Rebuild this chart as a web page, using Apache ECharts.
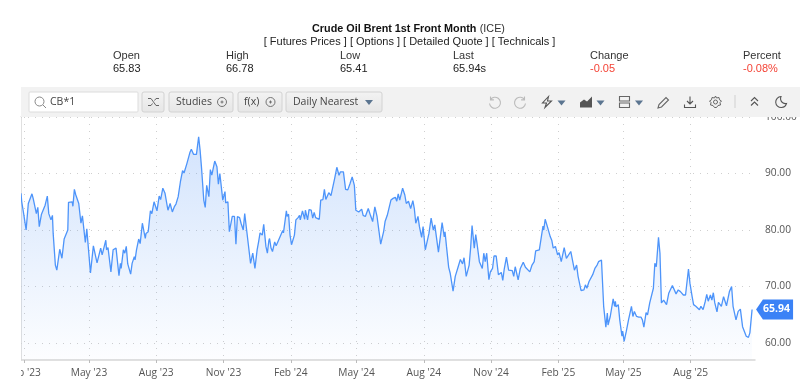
<!DOCTYPE html>
<html><head><meta charset="utf-8">
<style>html,body{margin:0;padding:0;background:#fff}#c{width:800px;height:381px}</style>
<script src="https://cdn.jsdelivr.net/npm/echarts@6/dist/echarts.min.js"></script>
</head><body><div id="c"></div>
<script>
const startDate = Date.UTC(2023, 0, 28);
const endDay = 1004;
const tickDates = ['2023-02-01','2023-05-01','2023-08-01','2023-11-01','2024-02-01','2024-05-01','2024-08-01','2024-11-01','2025-02-01','2025-05-01','2025-08-01'];
const tickLabels = ["Feb '23","May '23","Aug '23","Nov '23","Feb '24","May '24","Aug '24","Nov '24","Feb '25","May '25","Aug '25"];
const priceTicks = [60,70,80,90,100];
const days = [0,1,2,4,7,10,12,15,17,19,21,23,25,28,30,33,36,38,41,43,44,47,49,53,56,59,61,64,65,70,71,73,75,77,79,82,84,88,90,95,99,100,104,109,111,113,116,117,119,123,126,130,134,136,137,140,142,144,146,148,150,152,155,156,158,160,161,163,166,170,171,174,177,179,182,184,186,189,191,194,197,198,201,204,207,210,212,215,218,221,223,227,228,231,233,236,240,243,245,247,248,250,252,254,257,259,261,265,268,270,272,274,276,279,280,283,285,289,292,294,296,299,301,304,306,310,311,314,317,320,323,325,327,330,332,335,337,339,
340,342,344,347,349,352,354,358,359,363,364,366,368,370,374,376,379,381,382,385,388,389,392,394,397,399,401,403,408,410,413,415,417,419,421,424,427,429,432,435,437,439,441,444,447,450,453,456,458,462,466,468,471,475,478,481,484,487,492,496,498,501,503,506,509,512,514,516,518,522,525,527,530,533,536,538,540,543,545,548,550,553,555,558,561,564,566,571,576,579,580,582,585,587,591,594,596,598,601,604,606,609,611,613,615,617,620,622,624,627,629,631,633,635,637,640,642,645,647,650,653,655,657,659,661,664,667,669,672,674,676,680,683,687,690,692,696,699,702,
704,709,711,714,715,717,720,724,726,728,731,734,736,739,740,743,746,748,752,753,757,760,762,766,770,772,774,777,779,782,785,788,790,794,797,800,802,803,806,808,810,812,813,814,817,819,822,823,825,828,831,835,837,839,842,845,848,850,852,855,857,860,862,865,866,867,869,872,874,876,879,881,883,886,888,891,893,896,899,902,906,909,913,915,918,920,923,925,928,930,933,936,938,940,943,945,947,949,952,954,958,961,965,969,972,974,978,981,984,987,988,992,995,997,1000];
const prices = [86.5,85.0,85.3,82.6,80.0,84.7,84.7,86.4,85.4,85.2,82.9,84.0,80.6,82.8,82.5,84.4,86.0,82.9,81.8,82.6,79.4,73.8,72.9,76.6,75.0,78.4,78.7,80.0,84.9,85.0,84.2,87.2,86.2,86.3,84.7,81.2,82.5,77.8,80.2,72.4,77.2,77.3,74.2,76.8,75.6,75.9,78.2,76.5,76.9,72.6,76.5,76.8,71.9,74.1,73.2,76.5,75.9,77.1,74.0,74.0,72.2,74.1,75.3,74.7,76.5,76.6,78.4,77.6,81.2,78.5,79.4,79.7,83.4,82.9,85.0,85.3,83.4,86.0,85.4,87.4,86.5,86.4,83.5,84.7,83.2,84.2,84.6,85.9,88.5,90.5,90.1,91.8,92.1,93.7,94.3,93.4,93.4,96.5,94.1,90.9,90.6,85.3,84.0,87.9,85.9,90.7,89.7,92.2,91.2,88.1,90.0,90.3,85.3,86.8,84.8,85.0,79.7,82.4,82.4,77.5,82.4,82.2,81.2,80.0,82.9,78.5,77.4,74.1,75.9,73.2,76.5,77.9,79.5,79.1,81.0,77.1,75.9,78.1,
78.5,76.8,76.2,77.9,77.2,78.1,77.9,79.9,79.5,83.4,82.4,82.8,79.1,77.4,79.1,81.8,82.2,82.6,81.8,83.4,81.9,83.5,81.8,83.6,83.5,82.1,83.1,82.2,81.9,85.3,85.4,87.2,85.4,85.3,86.6,86.1,87.9,89.1,91.1,89.7,90.3,90.0,90.3,87.2,87.1,88.2,89.4,87.9,83.5,83.2,83.7,82.6,82.4,83.8,82.6,81.5,84.1,82.4,77.5,79.7,81.5,82.6,82.8,85.3,85.6,85.8,85.1,86.4,85.3,87.4,86.2,84.7,85.1,83.8,85.2,83.8,81.2,82.4,80.6,78.7,80.6,76.5,76.3,79.4,82.1,80.0,80.9,76.1,81.3,78.8,79.7,77.1,73.4,72.4,69.2,71.8,71.9,73.5,74.8,74.0,75.1,71.8,71.8,73.8,76.8,80.8,76.8,79.2,77.4,74.4,74.4,73.2,75.9,74.4,75.9,71.2,72.6,73.2,75.4,75.4,72.1,72.4,72.5,71.1,73.1,75.2,72.9,72.8,72.8,71.8,73.5,71.2,73.2,74.3,73.4,73.1,72.6,73.8,74.4,
76.3,76.5,76.2,80.7,80.0,81.9,80.6,78.8,78.2,76.8,77.1,75.6,76.0,74.4,74.4,76.9,75.0,74.8,76.2,76.4,72.9,73.8,71.8,69.3,69.4,70.3,69.7,70.9,70.6,72.1,73.2,73.8,74.4,74.7,66.5,62.8,65.3,63.2,64.7,64.7,67.8,66.5,67.4,66.4,66.8,64.1,61.2,62.1,60.3,62.1,64.1,66.5,64.7,65.6,64.7,64.6,64.6,64.1,62.8,65.4,65.0,67.1,67.1,69.7,69.4,74.1,73.5,78.7,75.9,67.1,67.6,67.6,66.8,68.8,68.5,70.2,70.2,68.7,69.4,69.1,68.5,68.5,73.1,70.6,68.2,66.8,66.5,66.6,65.9,66.5,65.9,67.4,68.6,67.4,68.5,67.6,68.9,67.1,65.5,67.2,66.5,68.2,66.6,69.1,70.0,66.5,64.1,65.6,66.0,62.9,63.1,61.2,61.0,61.8,65.94];
const headerStats = [['Open','65.83',113,'#222'],['High','66.78',226,'#222'],['Low','65.41',340,'#222'],['Last','65.94s',453,'#222'],['Change','-0.05',590,'#f44336'],['Percent','-0.08%',743,'#f44336']];

const DAY = 86400000;
const lastDay = days[days.length - 1];
const lastPrice = prices[prices.length - 1];
const seriesData = days.map((d, i) => [d, prices[i]]);
const tickDays = tickDates.map(s => Math.round((Date.parse(s) - startDate) / DAY));

const Z = 50;
const FF = '"Liberation Sans", Arial, sans-serif';
const UI = '"Open Sans", "Noto Sans", sans-serif';
const gfx = [];
const icons = [];
const text = (x, y, t, o) => gfx.push({type:'text', x, y, z:Z+2, silent:true, style:Object.assign({text:t, fontFamily:FF, fontSize:11, fill:'#222', textVerticalAlign:'middle'}, o||{})});
const rect = (x, y, w, h, o, r) => gfx.push({type:'rect', z:Z+1, silent:true, shape:{x, y, width:w, height:h, r:r||0}, style:o});
const icon = (x, y, d, o) => icons.push({x, y, d, style:Object.assign({fill:'none', stroke:'#666', lineWidth:1.1}, o||{})});
const tri = (x, y) => icon(x, y, 'M0,0 L8,0 L4,5 Z', {fill:'#5b7590', stroke:'none'});
const btn = (x, w) => rect(x, 92, w, 20, {fill:new echarts.graphic.LinearGradient(0,0,0,1,[{offset:0,color:'#f3f3f3'},{offset:1,color:'#e6e6e6'}]), stroke:'#d2d2d2', lineWidth:1}, 2);
const circlePlus = cx => icon(cx-4.5, 97.5, 'M0,4.5 A4.5,4.5 0 1 1 9,4.5 A4.5,4.5 0 1 1 0,4.5 Z M3,4.5 H6 M4.5,3 V6', {stroke:'#666', lineWidth:0.9});

// masks: toolbar band and clipped left edge of the axis labels
gfx.push({type:'rect', z:Z, silent:true, shape:{x:0, y:0, width:800, height:87}, style:{fill:'#fff'}});
gfx.push({type:'rect', z:Z, silent:true, shape:{x:0, y:117, width:21, height:264}, style:{fill:'#fff'}});
gfx.push({type:'rect', z:Z, silent:true, shape:{x:21, y:87, width:779, height:30}, style:{fill:'#f2f2f2'}});

gfx.push({type:'text', z:Z+2, silent:true, x:408.5, y:29.5, style:{
  text:'{b|Crude Oil Brent 1st Front Month} {n|(ICE)}', textAlign:'center', textVerticalAlign:'middle',
  rich:{b:{fontFamily:FF, fontSize:10.8, fontWeight:'bold', fill:'#111'}, n:{fontFamily:FF, fontSize:10.8, fill:'#333'}}}});
text(409.5, 42, '[ Futures Prices ] [ Options ] [ Detailed Quote ] [ Technicals ]', {textAlign:'center', fill:'#222'});
headerStats.forEach(([l, v, x, c]) => { text(x, 55.5, l, {fill:'#333'}); text(x, 68.5, v, {fill:c}); });

rect(29, 92, 109, 20, {fill:'#fff', stroke:'#dcdcdc', lineWidth:1}, 1);
icon(35, 97, 'M0,4.5 A4.5,4.5 0 1 1 9,4.5 A4.5,4.5 0 1 1 0,4.5 Z M8,8 L11,11', {stroke:'#888', lineWidth:1});
text(50, 102.5, 'CB*1', {fill:'#444', fontFamily:UI, fontSize:10.5});
btn(142, 22);
icon(148, 97.5, 'M0,1 H3 L8,8 H11 M0,8 H3 L4.5,6 M6.5,3 L8,1 H11', {stroke:'#666', lineWidth:1});
btn(169, 64);
text(176, 102.5, 'Studies', {fill:'#444', fontFamily:UI, fontSize:10.5});
circlePlus(222);
btn(238, 44);
text(244, 102.5, 'f(x)', {fill:'#444', fontFamily:UI, fontSize:10.5});
circlePlus(270.5);
btn(286, 96);
text(293, 102.5, 'Daily Nearest', {fill:'#444', fontFamily:UI, fontSize:10.5});
tri(365, 100);

icon(488.5, 96.5, 'M2,3 A5.5,5.5 0 1 1 1,7 M2,0 V3.4 H5.4', {stroke:'#bbb'});
icon(515.5, 96.5, 'M9,3 A5.5,5.5 0 1 0 10,7 M9,0 V3.4 H5.6', {stroke:'#bbb'});
icon(541.5, 96.5, 'M7,0 L1,6.5 H5 L3.5,11 L10,4.5 H6 Z', {stroke:'#555'});
tri(557.5, 100.5);
icon(580, 96.5, 'M0,6 L4,3 L7,5 L12,0 V11 H0 Z', {fill:'#555', stroke:'none'});
tri(596.5, 100.5);
icon(619.5, 96.5, 'M0,0 H10 V4.5 H0 Z M0,6.5 H10 V11 H0 Z', {stroke:'#666'});
tri(635, 100.5);
icon(658, 97, 'M0,11 L1,7.5 L8,0.5 L10.5,3 L3.5,10 Z', {stroke:'#666'});
icon(684.5, 96.5, 'M5.5,0 V7 M2.5,4.5 L5.5,7.5 L8.5,4.5 M0,8 V11 H11 V8', {stroke:'#555'});
icon(709.5, 96, 'M6,0 L7,2 L9.5,1.5 L10,3.8 L12,5 L10.5,6.5 L11,9 L8.5,9.5 L7,11.5 L5,11.5 L3.5,9.5 L1,9 L1.5,6.5 L0,5 L2,3.8 L2.5,1.5 L5,2 Z M4,6 A2,2 0 1 1 8,6 A2,2 0 1 1 4,6 Z', {stroke:'#666', lineWidth:1});
rect(734.5, 95, 1, 13, {fill:'#d0d0d0'});
icon(751, 97.5, 'M0,3.5 L3.5,0 L7,3.5 M0,8 L3.5,4.5 L7,8', {stroke:'#555'});
icon(775, 96.5, 'M6,0 A5.5,5.5 0 1 0 11.5,7 A5,5 0 0 1 6,0 Z', {stroke:'#555'});

const chart = echarts.init(document.getElementById('c'), null, {renderer:'canvas'});
chart.setOption({
  animation:false,
  backgroundColor:'#fff',
  grid:{left:21, right:45, top:117, bottom:21, outerBoundsMode:'none', containLabel:false},
  xAxis:{
    type:'value', min:0, max:endDay, boundaryGap:false,
    axisLine:{lineStyle:{color:'#d6d6d6', width:1.5}},
    axisTick:{show:true, length:3, customValues:tickDays, lineStyle:{color:'#bbb'}},
    axisLabel:{
      customValues:tickDays, hideOverlap:false, margin:8,
      color:'#555', fontFamily:UI, fontSize:10.2,
      formatter:v => tickLabels[tickDays.indexOf(v)] || ''
    },
    splitLine:{show:true, lineStyle:{color:'#cfcfcf', type:[1,6]}}
  },
  yAxis:{
    type:'value', position:'right', min:57, max:100,
    axisLine:{show:true, lineStyle:{color:'#d6d6d6', width:1.5}},
    axisTick:{show:false, customValues:priceTicks},
    axisLabel:{customValues:priceTicks, margin:10, color:'#555', fontFamily:UI, fontSize:10.2, formatter:v => v.toFixed(2)},
    splitLine:{show:true, lineStyle:{color:'#cfcfcf', type:[1,6]}}
  },
  series:[{
    type:'line', data:seriesData, showSymbol:false, symbol:'none', smooth:false,
    lineStyle:{color:'#4d94fa', width:1.3},
    areaStyle:{color:new echarts.graphic.LinearGradient(0,0,0,1,[{offset:0,color:'rgba(70,140,245,0.34)'},{offset:1,color:'rgba(70,140,245,0.02)'}])},
    markPoint:{
      silent:true, animation:false,
      symbol:'path://M0,10 L7,0 H38 V20 H7 Z', symbolSize:[37,20], symbolOffset:[22.5,0],
      itemStyle:{color:'#3b82f6'},
      label:{show:true, position:'inside', color:'#fff', fontFamily:UI, fontSize:10.5, fontWeight:'bold', offset:[2,0], formatter:p => lastPrice.toFixed(2)},
      data:[{coord:[lastDay, lastPrice], value:lastPrice}]
    }
  }],
  graphic:{elements:gfx}
});
const zr = chart.getZr();
icons.forEach(ic => zr.add(echarts.graphic.makePath(ic.d, {x:ic.x, y:ic.y, z:Z+5, zlevel:0, silent:true, style:ic.style})));
</script></body></html>
